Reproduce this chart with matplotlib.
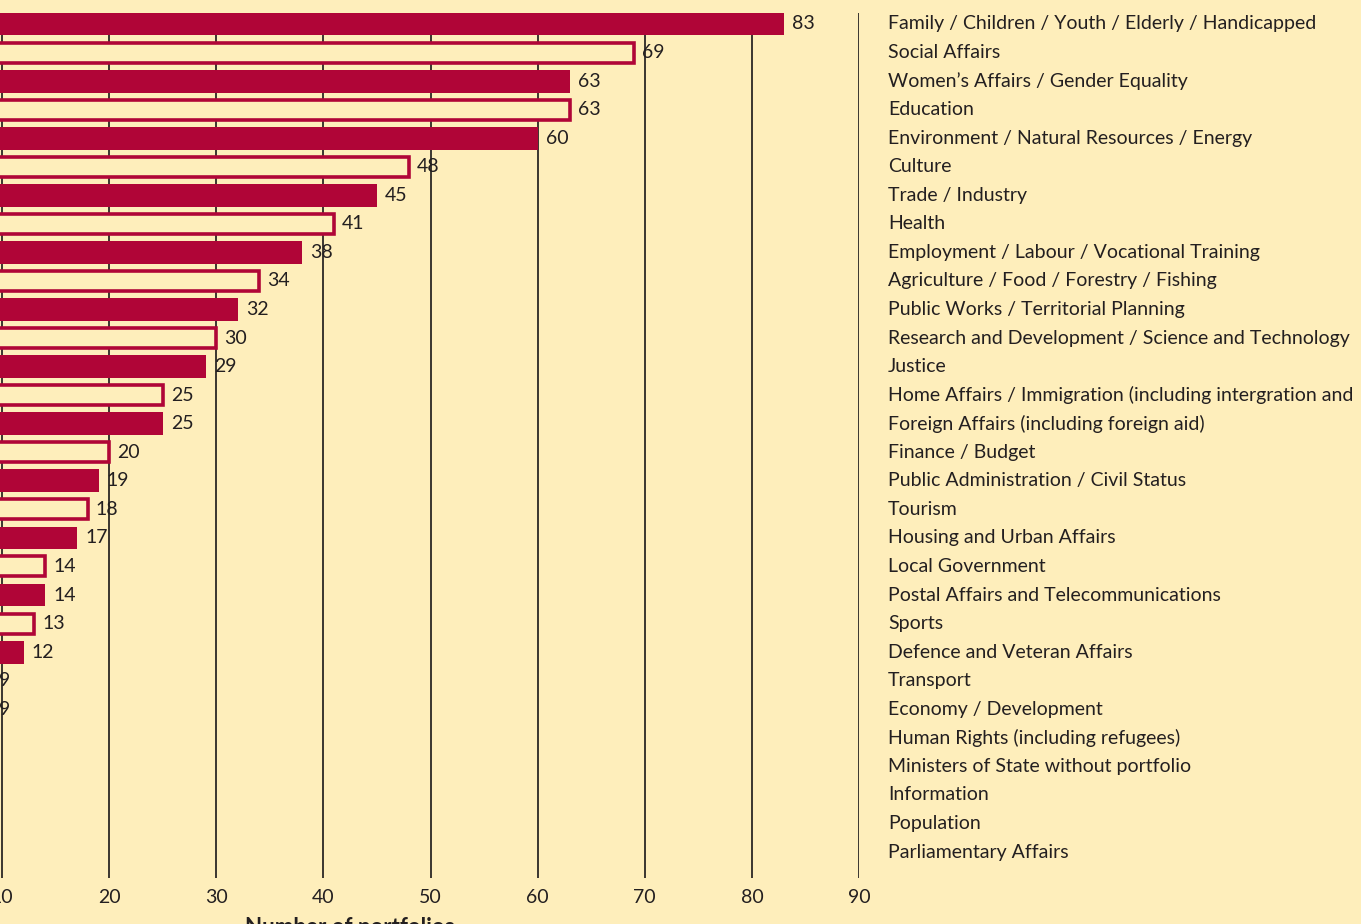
import matplotlib.pyplot as plt
import numpy as np

# data (bottom five fall below the visible range)
categories = [
    "Family / Children / Youth / Elderly / Handicapped",
    "Social Affairs",
    "Women\u2019s Affairs / Gender Equality",
    "Education",
    "Environment / Natural Resources / Energy",
    "Culture",
    "Trade / Industry",
    "Health",
    "Employment / Labour / Vocational Training",
    "Agriculture / Food / Forestry / Fishing",
    "Public Works / Territorial Planning",
    "Research and Development / Science and Technology",
    "Justice",
    "Home Affairs / Immigration (including intergration and",
    "Foreign Affairs (including foreign aid)",
    "Finance / Budget",
    "Public Administration / Civil Status",
    "Tourism",
    "Housing and Urban Affairs",
    "Local Government",
    "Postal Affairs and Telecommunications",
    "Sports",
    "Defence and Veteran Affairs",
    "Transport",
    "Economy / Development",
    "Human Rights (including refugees)",
    "Ministers of State without portfolio",
    "Information",
    "Population",
    "Parliamentary Affairs",
]
values = [83, 69, 63, 63, 60, 48, 45, 41, 38, 34, 32, 30, 29, 25, 25,
          20, 19, 18, 17, 14, 14, 13, 12, 9, 9, 8, 7, 6, 5, 3]
ticks = [0, 10, 20, 30, 40, 50, 60, 70, 80, 90]

bg = "#FEEEBB"
red = "#B00537"
grid_c = "#3a3530"
txt = "#231f20"

plt.rcParams["font.family"] = ["Lato", "DejaVu Sans"]

fig = plt.figure(figsize=(13.61, 9.24), dpi=100, facecolor=bg)
W, H = 1361, 924
# axes: value 0 sits off the left edge (~-105px), 90 at 859px
x0, x90 = -105, 859
top, bot = 13, 878
ax = fig.add_axes([x0 / W, (H - bot) / H, (x90 - x0) / W, (bot - top) / H])
ax.set_facecolor(bg)

for i, v in enumerate(values):
    if i % 2 == 0:
        ax.barh(i, v, height=0.8, color=red, zorder=3)
    else:
        ax.barh(i, v, height=0.7, facecolor=bg, edgecolor=red, linewidth=2.6, zorder=3)
    # labels for the smallest values fall outside the cropped view
    if v >= 9:
        ax.text(v + 0.75, i, str(v), va="center", ha="left", fontsize=14,
                color=txt, zorder=4)
    ax.text(92.7, i, categories[i], va="center", ha="left", fontsize=14,
            color=txt, clip_on=False)

ax.set_xlim(0, 90)
ax.set_ylim(29.91, -0.385)
ax.set_xticks(ticks)
ax.set_yticks([])
for t in ticks:
    ax.axvline(t, color=grid_c, linewidth=1.4, zorder=1)
ax.tick_params(axis="x", length=0, pad=8, labelsize=14, labelcolor=txt)
for s in ax.spines.values():
    s.set_visible(False)

fig.text(245 / W, (H - 917) / H, "Number of portfolios", fontsize=16,
         fontweight="bold", ha="left", va="top", color=txt)

fig.savefig("out.png", dpi=100, facecolor=bg)
